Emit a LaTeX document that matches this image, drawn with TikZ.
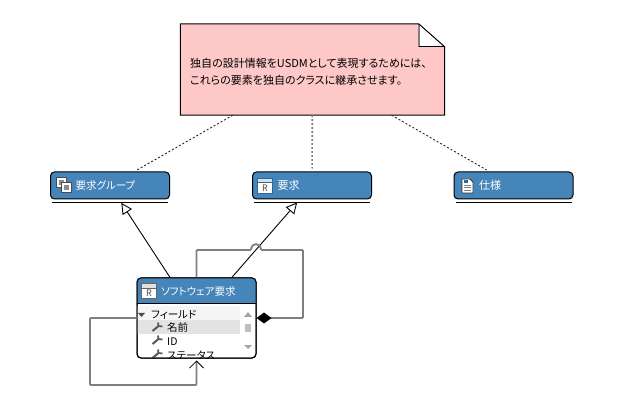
\documentclass[tikz,border=0pt]{standalone}
\usepackage{fontspec}
\setmainfont{Noto Sans CJK JP}[RawFeature={+palt}]
\usetikzlibrary{arrows.meta}
\definecolor{headblue}{HTML}{4585BA}
\definecolor{notepink}{HTML}{FFC8C8}
\definecolor{linegray}{HTML}{7F7F7F}
\definecolor{iconblue}{HTML}{30668F}
\definecolor{icongray}{HTML}{666666}
\newcommand{\ricon}[3]{%
  \fill[white] (#1,#2) rectangle ++(15,15);
  \fill[#3!20!white] (#1,#2) rectangle ++(15,4);
  \draw[#3,line width=1pt] (#1,#2) rectangle ++(15,15);
  \draw[#3,line width=.7pt] (#1,#2+4) -- ++(15,0);
  \node[iconlabel] at (#1+7.5,#2+9.5) {R};}
\newcommand{\wrenchicon}[2]{%
  \draw[line width=2pt,black!65] (#1,#2+9) -- ++(6,-5);
  \draw[line width=1.7pt,black!65] (#1+5.5,#2+.5) -- (#1+6,#2+4) -- (#1+10,#2+4.5);}
\begin{document}
\begin{tikzpicture}
[x=1pt,y=-1pt,>=Stealth,
headbox/.style={rectangle, draw=black, line width=1pt, fill=headblue, rounded corners=4pt, minimum height=27pt, text width=119pt, inner xsep=0pt, inner ysep=0pt, align=left, text=white, font={\fontsize{11}{13}\selectfont}, execute at begin node={\hspace*{25pt}}},
classbody/.style={rectangle, draw=black, line width=1pt, fill=white, rounded corners=4pt, minimum width=119pt, minimum height=80pt, inner sep=0pt},
rowtext/.style={anchor=west, inner sep=0pt, text=black, font={\fontsize{10.5}{12}\selectfont}},
iconlabel/.style={inner sep=0pt, text=black!70, font={\fontsize{9}{10}\selectfont}},
gen/.style={draw=black, line width=.9pt, shorten >=4pt, -{Triangle[open,fill=white,length=11pt,width=11pt]}},
notelink/.style={draw=black!85, line width=.9pt, dash pattern=on 2pt off 2pt, shorten >=3pt},
assoc/.style={draw=linegray, line width=1.8pt}]
    \useasboundingbox (0,0) rectangle (635,406);
    \node[rectangle, minimum width=264pt, minimum height=91pt, inner sep=0pt] (note) at (312.5,69.5) {};
    \node[headbox,font={\fontsize{10.5}{13}\selectfont}] (group) at (110,185.5) {要求グループ};
    \node[headbox] (req) at (312,185.5) {要求};
    \node[headbox] (spec) at (513.5,185.5) {仕様};
    \node[classbody] (soft) at (196.5,318) {};
    % note
    \fill[notepink] (note.north west) -- ([xshift=-26pt]note.north east) -- ([yshift=-23pt]note.north east) -- (note.south east) -- (note.south west) -- cycle;
    \fill[white] ([xshift=-26pt]note.north east) -- ([xshift=-26pt,yshift=-23pt]note.north east) -- ([yshift=-23pt]note.north east) -- cycle;
    \draw[linegray,line width=1.6pt] ([xshift=-26pt]note.north east) -- ([xshift=-26pt,yshift=-23pt]note.north east);
    \draw[black,line width=.8pt] ([xshift=-26pt,yshift=-23pt]note.north east) -- ([yshift=-23pt]note.north east);
    \draw[black,line width=1pt] (note.north west) -- ([xshift=-26pt]note.north east) -- ([yshift=-23pt]note.north east) -- (note.south east) -- (note.south west) -- cycle;
    \node[anchor=west, inner sep=0pt, align=left, font={\fontsize{11}{17}\selectfont}] (notetext) at (190,71.5) {独自の設計情報をUSDMとして表現するためには、\\これらの要素を独自のクラスに継承させます。};
    \path [notelink] (note) edge (group);
    \path [notelink,draw=linegray,line width=1.6pt] (note) edge (req);
    \path [notelink] (note) edge (spec);
    % lower edge of the three boxes
    \foreach \n in {group,req,spec}
      \draw[black,line width=1.1pt] ([xshift=2pt,yshift=-3pt]\n.south west) -- ([xshift=-2pt,yshift=-3pt]\n.south east);
    % icons
    \draw[black!70,line width=1pt,fill=white] (56,178) rectangle (66,188);
    \fill[black!45] (58.5,180.5) rectangle (63.5,185.5);
    \draw[black!70,line width=1pt,fill=white] (61,183) rectangle (71,193);
    \fill[black!45] (63.5,185.5) rectangle (68.5,190.5);
    \ricon{257.5}{178.5}{iconblue}
    \draw[black!80,line width=.9pt,fill=white] (462,179) -- (470,179) -- (473,182) -- (473,193) -- (462,193) -- cycle;
    \fill[iconblue] (463.5,180.5) rectangle (468,183.5);
    \foreach \y in {185,187.5,190}
      \draw[black!50,line width=.6pt] (464,\y) -- (471,\y);
    % class box
    \begin{scope}
      \clip[rounded corners=4pt] (soft.north west) rectangle (soft.south east);
      \fill[headblue] (137,278) rectangle (256,304);
      \fill[black!4] (137,306) rectangle (240,320);
      \fill[black!11] (137,320) rectangle (240,334);
      \draw[black,line width=1pt] (137,304) -- (256,304);
      \fill[black!70] (138,313) -- (145,313) -- (141.5,317) -- cycle;
      \node[rowtext] (fieldrow) at (151,314.5) {フィールド};
      \node[rowtext] (namerow) at (167,327.5) {名前};
      \node[rowtext] (idrow) at (167,341.5) {ID};
      \node[rowtext] (statusrow) at (167,355.5) {ステータス};
      \wrenchicon{152.5}{322}
      \wrenchicon{152.5}{335}
      \wrenchicon{152.5}{349}
      \fill[black!35] (244,317) -- (252,317) -- (248,312) -- cycle;
      \fill[black!25] (245,324) rectangle (251,332);
      \fill[black!35] (244,345) -- (252,345) -- (248,349) -- cycle;
    \end{scope}
    \node[classbody,fill=none] (softframe) at (soft) {};
    \ricon{141.5}{284}{icongray}
    \node[anchor=west, inner sep=0pt, text=white, font={\fontsize{10.5}{13}\selectfont}] (softtitle) at (161,291.5) {ソフトウェア要求};
    % connectors
    \path [gen] (soft) edge (group);
    \path [gen] (soft) edge (req);
    \coordinate (bendA) at (196.5,250);
    \coordinate (jumpA) at (251,250);
    \coordinate (jumpB) at (261,250);
    \coordinate (bendB) at (303,250);
    \coordinate (bendC) at (303,318);
    \draw[assoc,rounded corners=1pt,{Diamond[black,length=15pt,width=11pt]}-] (soft.east) -- (bendC) -- (bendB) -- (jumpB) .. controls (260,242.5) and (252,242.5) .. (jumpA) -- (bendA) -- (soft.north);
    \coordinate (bendD) at (90,318);
    \coordinate (bendE) at (90,385);
    \coordinate (bendF) at (196.5,385);
    \draw[assoc,rounded corners=1pt,-{Straight Barb[black,line width=.8pt,length=7pt,width=14pt]}] (soft.west) -- (bendD) -- (bendE) -- (bendF) -- ([yshift=-2pt]soft.south);
\end{tikzpicture}
\end{document}
